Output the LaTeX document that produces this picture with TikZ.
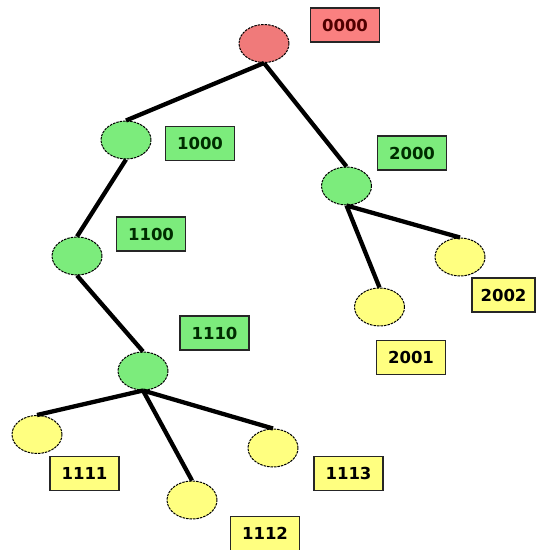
\documentclass[tikz,border=0pt]{standalone}
\usepackage{fontspec}
\newfontfamily\lblfont{DejaVu Sans}
\usetikzlibrary{shapes.geometric}
\definecolor{redfill}{RGB}{240,122,122}
\definecolor{redbox}{RGB}{250,128,128}
\definecolor{redtxt}{RGB}{80,0,0}
\definecolor{grnfill}{RGB}{124,236,124}
\definecolor{grntxt}{RGB}{0,45,0}
\definecolor{yelfill}{RGB}{255,255,128}
\tikzset{
  vert/.style={ellipse, draw=black, line width=1pt, dash pattern=on 2.5pt off 1pt,
               minimum width=50pt, minimum height=38pt, inner sep=0pt},
  rv/.style={vert, fill=redfill},
  gv/.style={vert, fill=grnfill},
  yv/.style={vert, fill=yelfill},
  lbl/.style={draw=black!85, line width=1.3pt, minimum width=69pt, minimum height=34pt,
              inner sep=0pt, font=\lblfont\bfseries\fontsize{16.5}{18}\selectfont},
  rl/.style={lbl, fill=redbox, text=redtxt},
  gl/.style={lbl, fill=grnfill, text=grntxt},
  yl/.style={lbl, fill=yelfill, text=black},
  edge/.style={line width=4.3pt, black}
}
\begin{document}
\begin{tikzpicture}[x=1pt,y=-1pt]
\useasboundingbox (0,0) rectangle (536,550);
% vertices
\node[rv] (n0000) at (264,43.5) {};
\node[gv] (n1000) at (126,140) {};
\node[gv] (n2000) at (346.5,186) {};
\node[gv] (n1100) at (77,256) {};
\node[gv] (n1110) at (143,371) {};
\node[yv] (n2001) at (379.5,307) {};
\node[yv] (n2002) at (460,257) {};
\node[yv] (n1111) at (37,434.5) {};
\node[yv] (n1112) at (192,500) {};
\node[yv] (n1113) at (273,448) {};
% edges
\draw[edge] (n0000.south) -- (n1000.north);
\draw[edge] (n0000.south) -- (n2000.north);
\draw[edge] (n1000.south) -- (n1100.north);
\draw[edge] (n1100.south) -- (n1110.north);
\draw[edge] (n2000.south) -- (n2001.north);
\draw[edge] (n2000.south) -- (n2002.north);
\draw[edge] (n1110.south) -- (n1111.north);
\draw[edge] (n1110.south) -- (n1112.north);
\draw[edge] (n1110.south) -- (n1113.north);
% labels
\node[rl] (l0000) at (345,25) {0000};
\node[gl] (l1000) at (200,143.5) {1000};
\node[gl] (l2000) at (412,153) {2000};
\node[gl] (l1100) at (151,234) {1100};
\node[gl] (l1110) at (214.5,333) {1110};
\node[yl, minimum width=63pt] (l2002) at (503.5,295) {2002};
\node[yl] (l2001) at (411,357.5) {2001};
\node[yl] (l1111) at (84.5,473.5) {1111};
\node[yl] (l1112) at (265,533.5) {1112};
\node[yl] (l1113) at (348.5,473.5) {1113};
\end{tikzpicture}
\end{document}
